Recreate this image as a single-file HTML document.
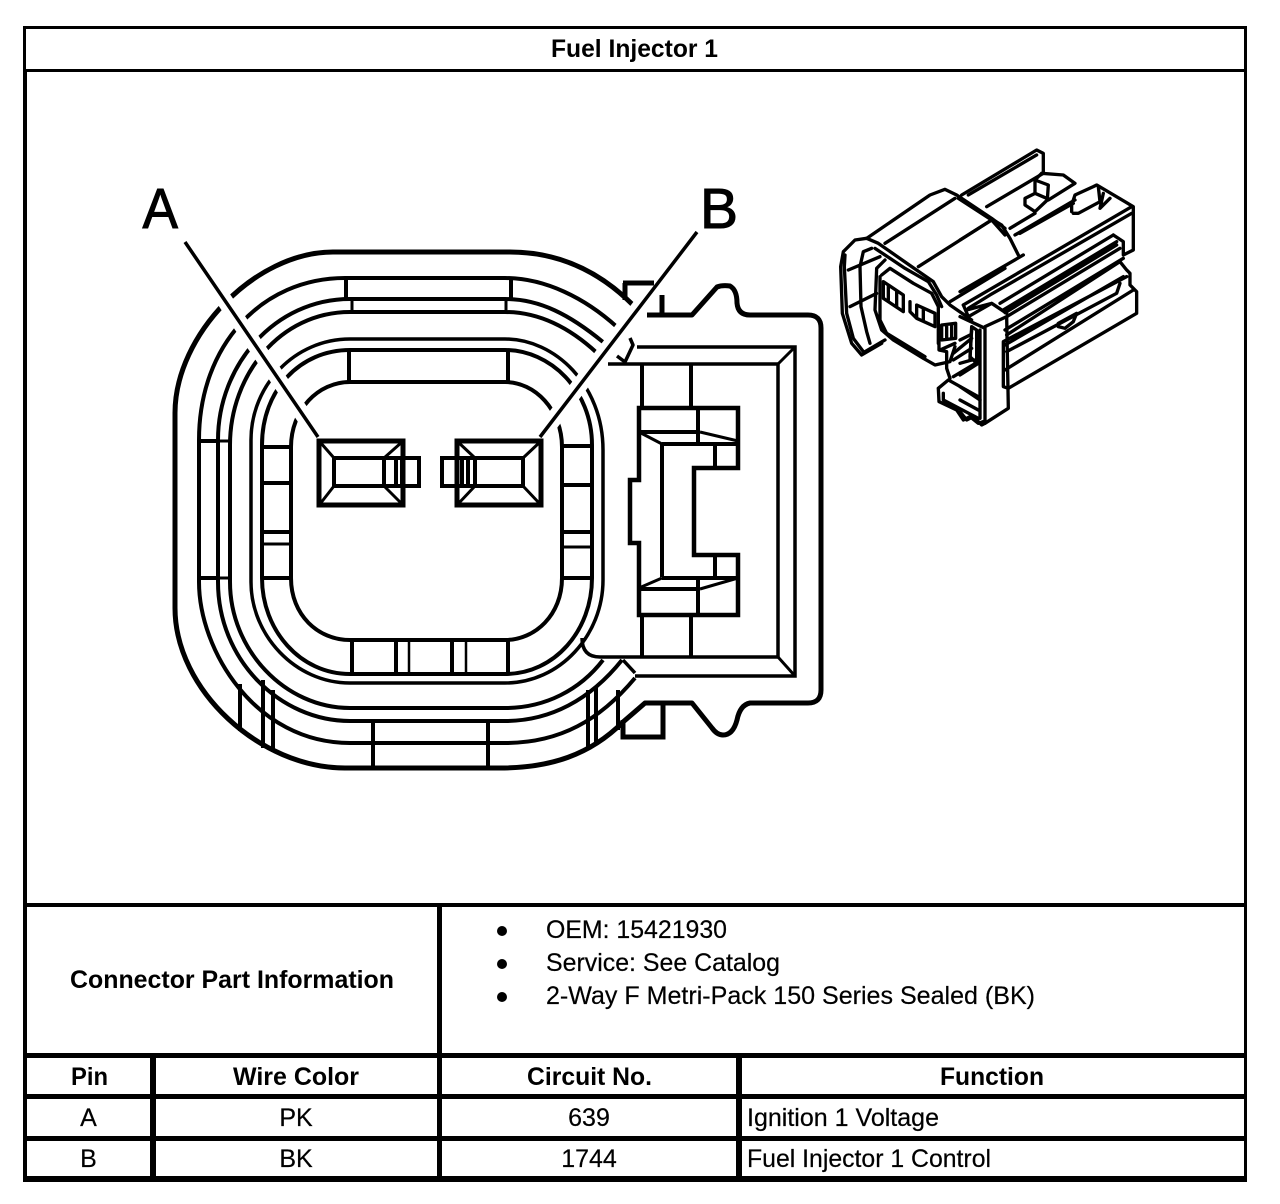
<!DOCTYPE html>
<html lang="en">
<head>
<meta charset="utf-8">
<title>Fuel Injector 1</title>
<style>
html,body{margin:0;padding:0;background:#fff;width:1280px;height:1204px;overflow:hidden}
svg{display:block}
text{font-family:"Liberation Sans",Arial,sans-serif;fill:#000}
.b{font-weight:bold;font-size:25px}
.r{font-size:25px;stroke:#000;stroke-width:.2}
.c{text-anchor:middle}
</style>
</head>
<body>
<svg width="1280" height="1204" viewBox="0 0 1280 1204" xmlns="http://www.w3.org/2000/svg">
<rect width="1280" height="1204" fill="#fff"/>

<!-- table frame -->
<g fill="#000">
<rect x="23" y="26" width="1224" height="3"/>
<rect x="23" y="69" width="1224" height="3"/>
<rect x="23" y="903" width="1224" height="4"/>
<rect x="23" y="1053" width="1224" height="5"/>
<rect x="23" y="1094" width="1224" height="5"/>
<rect x="23" y="1136" width="1224" height="5"/>
<rect x="23" y="1176" width="1224" height="6"/>
<rect x="23" y="26" width="3" height="46"/>
<rect x="23" y="72" width="4" height="1110"/>
<rect x="1244" y="26" width="3" height="1156"/>
<rect x="437" y="903" width="5" height="279"/>
<rect x="150" y="1053" width="6" height="129"/>
<rect x="736" y="1053" width="6" height="129"/>
</g>

<!-- table text -->
<text class="b" x="551" y="57" textLength="167" lengthAdjust="spacingAndGlyphs">Fuel Injector 1</text>
<text class="b" x="70" y="988" textLength="324" lengthAdjust="spacingAndGlyphs">Connector Part Information</text>
<circle cx="502" cy="931" r="5"/><circle cx="502" cy="964" r="5"/><circle cx="502" cy="997" r="5"/>
<text class="r" x="546" y="938" textLength="181" lengthAdjust="spacingAndGlyphs">OEM: 15421930</text>
<text class="r" x="546" y="971" textLength="234" lengthAdjust="spacingAndGlyphs">Service: See Catalog</text>
<text class="r" x="546" y="1004" textLength="489" lengthAdjust="spacingAndGlyphs">2-Way F Metri-Pack 150 Series Sealed (BK)</text>
<text class="b" x="71" y="1085" textLength="37" lengthAdjust="spacingAndGlyphs">Pin</text>
<text class="b" x="233" y="1085" textLength="126" lengthAdjust="spacingAndGlyphs">Wire Color</text>
<text class="b" x="527" y="1085" textLength="125" lengthAdjust="spacingAndGlyphs">Circuit No.</text>
<text class="b" x="940" y="1085" textLength="104" lengthAdjust="spacingAndGlyphs">Function</text>
<text class="r c" x="88.5" y="1126">A</text>
<text class="r c" x="296" y="1126">PK</text>
<text class="r c" x="589" y="1126">639</text>
<text class="r" x="747" y="1126" textLength="192" lengthAdjust="spacingAndGlyphs">Ignition 1 Voltage</text>
<text class="r c" x="88.5" y="1167">B</text>
<text class="r c" x="296" y="1167">BK</text>
<text class="r c" x="589" y="1167">1744</text>
<text class="r" x="747" y="1167" textLength="244" lengthAdjust="spacingAndGlyphs">Fuel Injector 1 Control</text>

<!-- pin letters -->
<text x="142.5" y="228" font-size="57" textLength="35.5" lengthAdjust="spacingAndGlyphs" stroke="#000" stroke-width="1">A</text>
<text x="700" y="228" font-size="57" stroke="#000" stroke-width="1">B</text>

<!-- concentric rings -->
<g fill="none" stroke="#000" stroke-linejoin="miter">
<path stroke-width="5" d="M633,305 C600,272 560,252 510,252 L333,252 C255,252 175,335 175,413 L175,608 C175,690 260,768 345,768 L500,768 C550,768 590,755 623,722"/>
<path stroke-width="4" d="M617,327 C585,298 545,278 505,278 L345,278 C262,278 199,345 199,440 L199,582 C199,650 255,743 350,743 L505,743 C560,743 600,720 635,678"/>
<path stroke-width="4" d="M603,342 C570,315 540,299 505,299 L350,299 C275,299 218,365 218,440 L218,582 C218,660 280,721 350,721 L505,721 C550,721 590,700 622,660"/>
<path stroke-width="4" d="M597,353 C570,328 540,312 505,312 L350,312 C280,312 230,375 230,445 L230,582 C230,650 285,708 350,708 L505,708 C545,708 580,690 603,660"/>
<path stroke-width="3.5" d="M603,580 L603,450 C603,385 555,339 505,339 L350,339 C295,339 251,385 251,440 L251,582 C251,635 295,683 350,683 L505,683 C560,683 603,635 603,580 Z"/>
<path stroke-width="4" d="M592,578 L592,445 C592,390 550,350 505,350 L350,350 C300,350 262,390 262,445 L262,578 C262,630 300,674 350,674 L505,674 C555,674 592,630 592,578 Z"/>
<path stroke-width="4" d="M562,578 L562,447 C562,410 535,382 505,382 L350,382 C318,382 291,410 291,447 L291,578 C291,615 318,640 350,640 L505,640 C535,640 562,615 562,578 Z"/>
<!-- ring cross-ties -->
<path stroke-width="4" d="M346,278V299 M511,278V299 M349,350V382 M508,350V382"/>
<path stroke-width="3" d="M352,299V312 M506,299V312"/>
<path stroke-width="4" d="M199,441H218 M199,578H218"/>
<path stroke-width="3" d="M218,441H230 M218,578H230"/>
<path stroke-width="4" d="M262,447H291 M262,483H291 M262,532H291 M262,578H291"/>
<path stroke-width="3" d="M262,544H291"/>
<path stroke-width="4" d="M563,446H592 M563,485H592 M563,532H592 M563,578H592"/>
<path stroke-width="3" d="M563,547H592"/>
<path stroke-width="4" d="M352,640V674 M396,640V674 M452,640V674 M508,640V674"/>
<path stroke-width="2.5" d="M409,640V674 M466,640V674"/>
<path stroke-width="4" d="M240,684V731 M263,680V748 M273,690V752 M373,721V768 M488,721V768 M588,690V750 M596,687V745 M618,690V730"/>
</g>

<!-- leader halos + leaders -->
<g fill="none">
<path stroke="#fff" stroke-width="16" d="M186,244L318,437 M697,232L540,437"/>
<path stroke="#000" stroke-width="3.5" d="M185,242L318,437 M697,232L540,437"/>
</g>

<!-- pins -->
<g fill="none" stroke="#000" stroke-width="4">
<rect x="319" y="441" width="84" height="64" stroke-width="5"/>
<rect x="334" y="458" width="85" height="28"/>
<path d="M384,458V486 M396,458V486 M402,458V486"/>
<path stroke-width="3" d="M320,442L334,458 M402,442L384,458 M320,504L334,486 M402,504L384,486"/>
<rect x="457" y="441" width="84" height="64" stroke-width="5"/>
<rect x="442" y="458" width="81" height="28"/>
<path d="M462,458V486 M468,458V486 M475,458V486"/>
<path stroke-width="3" d="M458,442L475,458 M458,504L475,486 M540,442L523,458 M540,504L523,486"/>
</g>

<!-- connector body -->
<g fill="none" stroke="#000" stroke-linejoin="round">
<path stroke-width="5" d="M647,315 H692 L717,287 Q722,285 730,286 Q737,290 737,303 Q738,315 750,315 H808 Q821,315 821,328 V690 Q821,703 808,703 H750 Q740,705 737,720 Q733,735 723,735 Q717,735 712,728 L692,703 H645 L623,722"/>
<path stroke-width="5" stroke-linejoin="miter" d="M623,283 H654 M625,283 V300 M662,295 V315"/>
<path stroke-width="5" stroke-linejoin="miter" d="M623,720 V737 H663 V703"/>
<path stroke-width="3.5" d="M617,356 L625,362 L633,345 L630,338"/>
<path stroke-width="3.5" stroke-linejoin="miter" d="M637,347 H795 V676 H635 M623,660 L635,673"/>
<path stroke-width="3.5" stroke-linejoin="miter" d="M608,364 H778 V657 H600 Q582,657 582,638"/>
<path stroke-width="3" d="M778,364 L795,347 M778,657 L795,676"/>
<path stroke-width="4" d="M642,364 V408 M691,364 V408 M642,615 V657 M691,615 V657"/>
<path stroke-width="4.5" stroke-linejoin="miter" d="M639,408 H738 V468 H694 V555 H738 V615 H639 V543 H630 V480 H639 Z"/>
<path stroke-width="4" d="M662,444 V577 M639,432 H700 M662,444 H738 M662,578 H738 M639,589 H698 M698,408 V444 M715,444 V468 M698,578 V615 M715,555 V578"/>
<path stroke-width="3" d="M639,432 L662,444 M700,432 L738,441 M639,588 L662,578 M700,589 L738,578"/>
</g>

<!-- isometric view: upper rails -->
<g transform="translate(830,140) scale(.3333)" fill="none" stroke="#000" stroke-width="10" stroke-linejoin="round" stroke-linecap="round">
<path d="M395,165 L620,30 L640,40 L640,95 M470,200 L640,100 M415,165 L620,45"/>
</g>
<!-- isometric view: right half -->
<g transform="translate(960,170) scale(.3333)" fill="none" stroke="#000" stroke-width="10" stroke-linejoin="round" stroke-linecap="round">
<path d="M100,150 L125,165 L150,205 L175,255 M0,210 L95,150 M0,365 L190,255"/>
<path d="M150,175 L225,130 M165,195 L345,90 M180,190 L340,100"/>
<path d="M225,30 L265,45 L262,90 L225,125 L195,105 L195,85 L225,70 Z M225,70 L260,85 M245,10 L310,15 L345,40 L265,90 M225,30 L245,10"/>
<path d="M335,125 L335,105 L345,75 L400,50 L410,45 L495,95 L520,110 L520,240 L490,255 L490,215 L460,195 M340,130 L355,130 L420,95 L415,50 M430,70 L420,115 L450,85"/>
<path d="M515,110 L10,405 M515,130 L90,375 L25,415 M460,195 L120,400 M470,215 L130,420 M470,225 L135,428 M480,235 L140,440 M490,265 L135,480 M480,275 L140,495"/>
<path d="M480,275 L500,300 L510,310 L510,345 L530,365 L530,430 L145,655 L130,650 L130,515 L500,320 M480,340 L470,370 L140,545 M490,320 L135,525 M520,360 L135,600"/>
<path d="M295,460 L350,430 L340,455 L315,475 L295,470"/>
<path d="M0,440 L75,475 L75,760 L145,715 L140,440 L75,470 M35,470 L50,480 L50,570 L30,570 Z M60,480 L60,745 M10,405 L25,440 L95,400 L140,430 M95,400 L20,420"/>
<path d="M0,510 L30,495 M0,580 L35,570 M0,615 L55,580 M0,650 L60,690 M0,690 L55,720 M0,725 L20,750 L40,740 L65,765 L75,760"/>
</g>
<!-- isometric view: left half -->
<g transform="translate(835,180) scale(.3333)" fill="none" stroke="#000" stroke-width="10" stroke-linejoin="round" stroke-linecap="round">
<path d="M95,175 L60,180 L25,215 L17,260 L22,400 L50,490 L80,525 L140,490"/>
<path d="M30,225 L28,260 L35,400 L55,475 L85,515"/>
<path d="M110,205 L85,215 L75,260 L78,380 L95,455 L105,490"/>
<path d="M95,175 L130,190 L230,260 L295,305 L320,350 L345,375 L410,420"/>
<path d="M120,205 L210,265 L280,305 L305,345 L320,380"/>
<path d="M95,175 L285,45 L330,28 L365,45 L470,115 L510,145 M370,55 L470,120 L510,165"/>
<path d="M150,190 L360,55 M250,260 L470,120 M345,365 L510,265"/>
<path d="M150,240 L125,265 L120,390 L140,450 L175,480 L265,535 L300,555 L345,545 L360,500 M135,290 L135,420 L155,460 L270,530 M140,285 L165,265 L235,310 L290,340 L310,380 L310,490"/>
<path d="M40,270 L135,230 M45,380 L125,340 M90,515 L150,480"/>
<path d="M145,305 L205,345 L205,395 L145,355 Z M160,320 L160,360 M185,335 L185,380"/>
<path d="M245,375 L300,400 L300,440 L245,415 Z M225,365 L225,395 L245,415 M265,385 L265,420"/>
<path d="M320,435 L362,430 L362,475 L320,480 Z M335,440 L335,475 M350,435 L350,472 M312,480 L312,510 L335,515 L335,565 L345,595"/>
<path d="M315,510 L360,490 M355,520 L410,475 M355,540 L410,505 M355,590 L430,545 M410,450 L405,530 L420,545"/>
<path d="M310,625 L312,665 L365,690 L385,720 L405,710 L430,730 L445,725 M310,625 L340,600 L430,650 M325,640 L325,660 L430,715"/>
</g>
</svg>
</body>
</html>
